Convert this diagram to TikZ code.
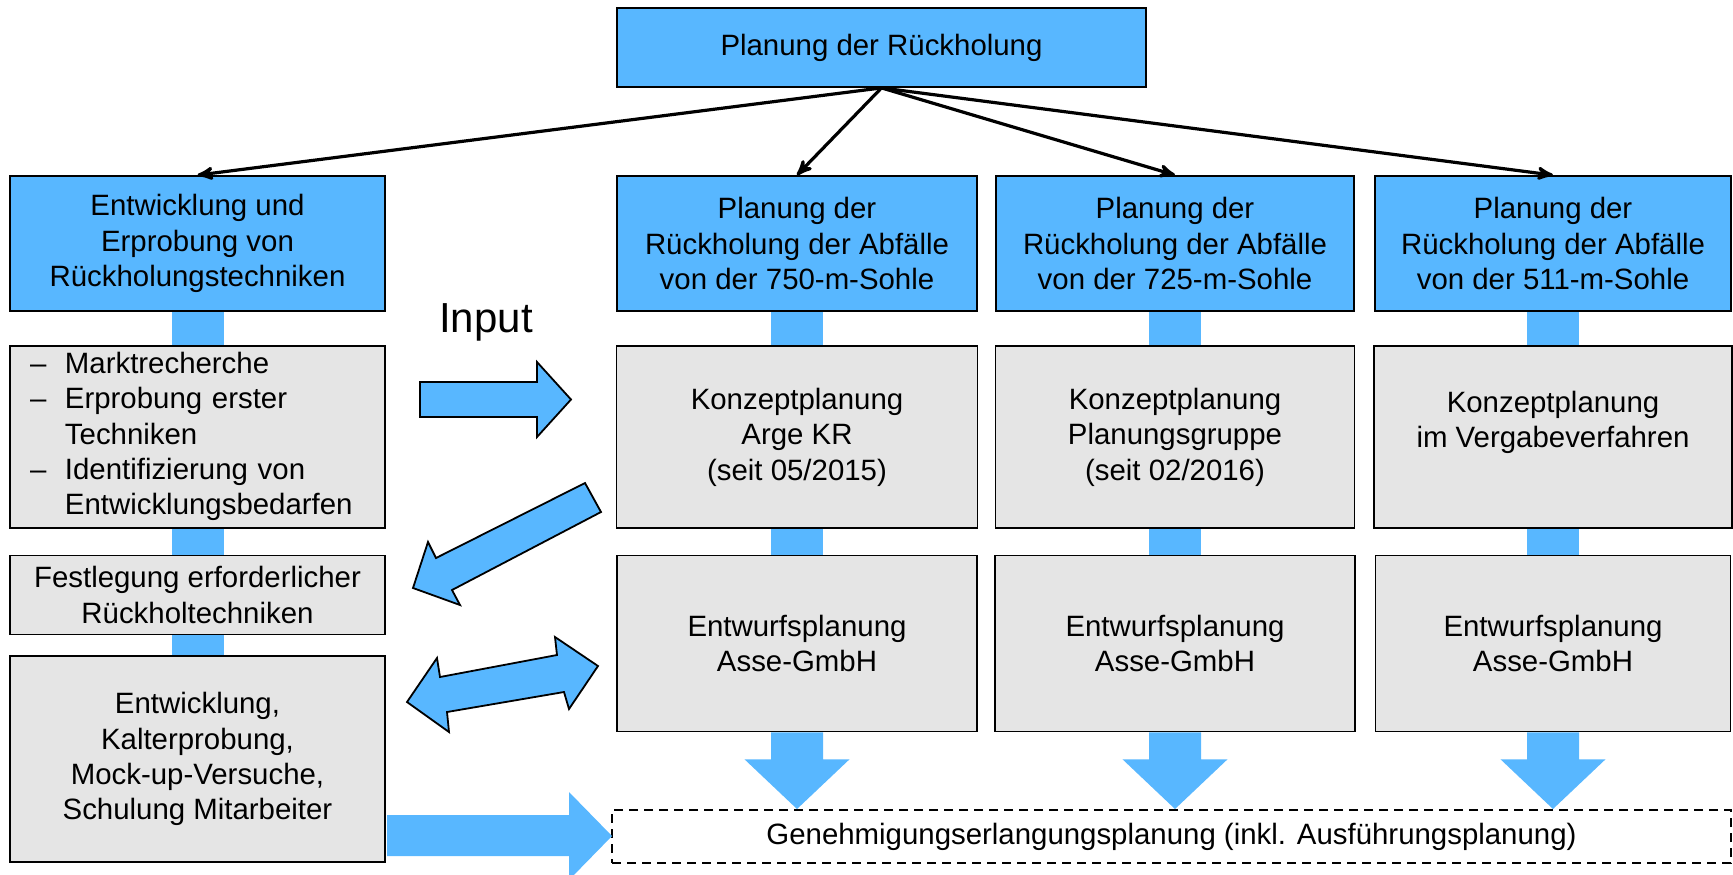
\documentclass[tikz,border=0pt]{standalone}
\usepackage{fontspec}
\setmainfont{Liberation Sans}
\usepackage{tikz}
\usetikzlibrary{arrows, positioning, backgrounds}
\definecolor{asseblue}{RGB}{88,183,255}
\definecolor{assegray}{RGB}{229,229,229}

\begin{document}
\begin{tikzpicture}[x=0.5pt,y=-0.5pt,
    every node/.style={font=\fontsize{14.7}{17.7}\selectfont, align=center, inner sep=0pt},
    bluebox/.style={draw, fill=asseblue, line width=0.9pt, minimum width=#1, minimum height=67.5pt},
    graybox/.style={draw, fill=assegray, line width=0.9pt, minimum width=#1},
    conn/.style={->, >=stealth', line width=1.6pt},
    blockarrow/.style={fill=asseblue, draw=black, line width=0.9pt, line join=miter}]

\useasboundingbox (0,0) rectangle (1733,874);

% top
\node[bluebox=264.5pt, minimum height=39.5pt] (top) at (881.5,47.5) {Planung der Rückholung};

% left column
\node[bluebox=187.5pt] (ent) at (197.5,243.5) {Entwicklung und\\Erprobung von\\Rückholungstechniken};
\node[graybox=187.5pt, minimum height=91pt, text width=167.5pt, inner xsep=10pt, align=left] (markt) [below=16.6pt of ent]
  {\raisebox{-1.7pt}{\begin{tabular}{@{}l@{\hspace{9.3pt}}l@{}}
    -- & Marktrecherche\\
    -- & Erprobung erster\\
       & Techniken\\
    -- & Identifizierung von\\
       & Entwicklungsbedarfen
   \end{tabular}}};
\node[graybox=187.5pt, minimum height=39.5pt] (fest) [below=12.8pt of markt] {Festlegung erforderlicher\\Rückholtechniken};
\node[graybox=187.5pt, minimum height=103pt] (entw) [below=10pt of fest] {Entwicklung,\\Kalterprobung,\\Mock-up-Versuche,\\Schulung Mitarbeiter};

% levels
\node[bluebox=180pt] (p750) at (797,243.5) {Planung der\\Rückholung der Abfälle\\von der 750-m-Sohle};
\node[bluebox=179pt] (p725) at (1175,243.5) {Planung der\\Rückholung der Abfälle\\von der 725-m-Sohle};
\node[bluebox=178pt] (p511) at (1553,243.5) {Planung der\\Rückholung der Abfälle\\von der 511-m-Sohle};

\node[graybox=180.5pt, minimum height=91pt] (k750) [below=16.6pt of p750] {Konzeptplanung\\Arge KR\\(seit 05/2015)};
\node[graybox=179.5pt, minimum height=91pt] (k725) [below=16.6pt of p725] {Konzeptplanung\\Planungsgruppe\\(seit 02/2016)};
\node[graybox=179pt, minimum height=91pt] (k511) [below=16.6pt of p511] {Konzeptplanung\\im Vergabeverfahren\\\mbox{}};

\node[graybox=180pt, minimum height=88pt] (e750) [below=12.8pt of k750] {Entwurfsplanung\\Asse-GmbH};
\node[graybox=180pt, minimum height=88pt] (e725) [below=12.8pt of k725] {Entwurfsplanung\\Asse-GmbH};
\node[graybox=177.5pt, minimum height=88pt] (e511) [below=12.8pt of k511] {Entwurfsplanung\\Asse-GmbH};

\node[draw, dash pattern=on 4.5pt off 3pt, line width=1pt, minimum width=559.5pt, minimum height=26.5pt] (gen) at (1171.5,836.5)
  {Genehmigungserlangungsplanung (inkl. Ausführungsplanung)};

\node[font=\fontsize{21}{25}\selectfont] (input) at (486,322) {Input};

% connectors
\draw[conn] (top.south) -- (ent.north);
\draw[conn] (top.south) -- (p750.north);
\draw[conn] (top.south) -- (p725.north);
\draw[conn] (top.south) -- (p511.north);

% blue bars
\begin{scope}[on background layer]
\foreach \up/\dn in {ent/markt, markt/fest, fest/entw, p750/k750, k750/e750, p725/k725, k725/e725, p511/k511, k511/e511}
  \fill[asseblue] ([xshift=-13pt]\dn.north |- \up.south) rectangle ([xshift=13pt]\dn.north);
\end{scope}

% down arrows
\foreach \c in {750,725,511}
  \fill[asseblue] ([xshift=-13pt]e\c.south) -- ++(0,-13.5pt) -- ++(-13.25pt,0) -- (e\c.south |- gen.north)
    -- ([xshift=26.25pt,yshift=-13.5pt]e\c.south) -- ++(-13.25pt,0) -- ([xshift=13pt]e\c.south) -- cycle;

% block arrows
\draw[blockarrow] (420,382) -- (537,382) -- (537,362) -- (571,399.5) -- (537,437) -- (537,417) -- (420,417) -- cycle;
\draw[blockarrow] (413,588) -- (428,542) -- (436,558) -- (585,483) -- (601,512) -- (452,590) -- (460,605) -- cycle;
\draw[blockarrow] (407,702) -- (437,658) -- (440,677) -- (557,655) -- (555,637) -- (598,666) -- (569,709) -- (564,692) -- (447,712) -- (449,732) -- cycle;
\fill[asseblue] (387,815) -- (569,815) -- (569,792) -- (612,836) -- (569,880) -- (569,856) -- (387,856) -- cycle;

\end{tikzpicture}
\end{document}
